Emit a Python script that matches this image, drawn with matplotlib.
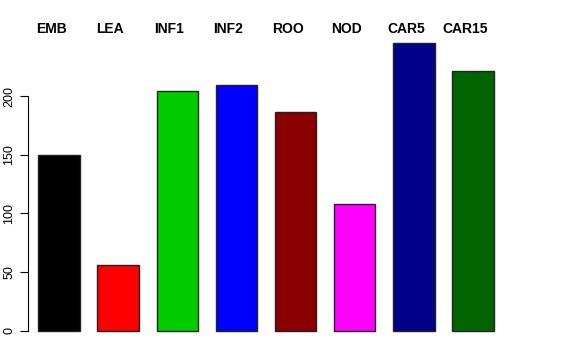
import matplotlib
matplotlib.use("Agg")
import matplotlib.pyplot as plt
import numpy as np

names = ["EMB", "LEA", "INF1", "INF2", "ROO", "NOD", "CAR5", "CAR15"]
counts = [150, 56, 204, 209, 186, 108, 245, 221]
colors = ["#000000", "#FF0000", "#00CD00", "#0000FF",
          "#8B0000", "#FF00FF", "#00008B", "#006400"]
yticks = [0, 50, 100, 150, 200]

plt.rcParams['font.family'] = ['Liberation Sans', 'DejaVu Sans']

fig = plt.figure(figsize=(5.76, 3.6), dpi=100)
ax = fig.add_axes([20 / 576, 17.8 / 360, 492 / 576, 310.5 / 360])

x = np.arange(len(names))
w = 0.703
ax.bar(x, counts, width=w, color=colors, edgecolor="#222222", linewidth=1)

# R style 4% padding around data range
lo, hi = x[0] - w / 2, x[-1] + w / 2
pad = (hi - lo) * 0.04
ax.set_xlim(lo - pad, hi + pad)
ymax = max(counts)
ax.set_ylim(-ymax * 0.04, ymax * 1.04)

for xi, name in zip(x, names):
    ax.text(xi - 0.135, 1.008, name, transform=ax.get_xaxis_transform(),
            ha="center", va="center", fontsize=10, fontweight="bold")

for s in ["top", "right", "bottom"]:
    ax.spines[s].set_visible(False)
ax.spines["left"].set_bounds(yticks[0], yticks[-1])
ax.spines["left"].set_position(("axes", 8 / 492))
ax.set_xticks([])
ax.set_yticks(yticks)
ax.set_yticklabels([str(t) for t in yticks], rotation=90, va="center", fontsize=9)
ax.tick_params(axis="y", length=6, pad=3)

fig.savefig("out.png", dpi=100)
